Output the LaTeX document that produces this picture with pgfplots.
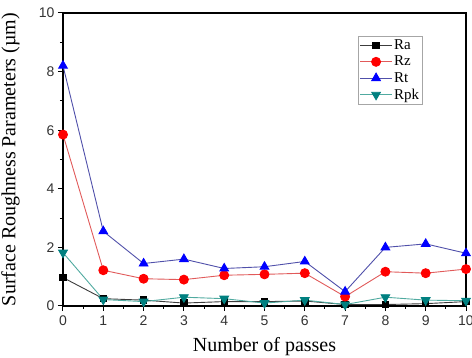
\documentclass[border=0pt]{standalone}
\usepackage{fontspec}
\setmainfont{Liberation Serif}
\newfontfamily\arialf{Liberation Sans}
\usepackage{pgfplots}
\pgfplotsset{compat=1.18}
\definecolor{ralin}{RGB}{60,60,60}
\definecolor{rzlin}{RGB}{225,90,90}
\definecolor{rtlin}{RGB}{80,80,170}
\definecolor{rpklin}{RGB}{80,170,160}
\definecolor{rpkmk}{RGB}{0,128,128}
\begin{document}
\begin{tikzpicture}
\begin{axis}[
  scale only axis, width=403pt, height=293pt,
  xmin=0, xmax=10, ymin=0, ymax=10,
  xtick={0,1,...,10}, ytick={0,2,...,10},
  minor x tick num=1, minor y tick num=1,
  tick align=outside, xtick pos=bottom, ytick pos=left,
  major tick length=5pt, minor tick length=3pt,
  axis line style={line width=1.1pt},
  every tick/.style={black, line width=1pt},
  /pgf/number format/assume math mode=true,
  tick label style={font=\arialf\fontsize{14}{15}\selectfont, text=black!80},
  xticklabel style={yshift=-1pt},
  xlabel={Number of passes},
  ylabel={Surface Roughness Parameters (µm)},
  label style={font=\fontsize{20}{22}\selectfont},
  x label style={at={(axis description cs:0.5,-0.14)}, anchor=center},
  y label style={at={(axis description cs:-0.13,0.5)}, anchor=center},
  legend style={at={(axis description cs:0.893,0.921)}, anchor=north east,
    draw=black!35, font=\fontsize{15}{16}\selectfont, row sep=1pt,
    inner sep=1.5pt},
  legend cell align=left,
  every axis plot/.append style={line width=0.9pt},
  legend image code/.code={\draw[mark repeat=2, mark phase=2, #1] plot coordinates {(0cm,0cm) (0.55cm,0cm) (1.1cm,0cm)};},
]
\addplot[ralin, mark=square*, mark size=3.2pt, mark options={black, fill=black}]
coordinates {(0,0.97) (1,0.25) (2,0.2) (3,0.1) (4,0.15) (5,0.15) (6,0.17) (7,0.05) (8,0.05) (9,0.08) (10,0.15)};
\addlegendentry{Ra}
\addplot[rzlin, mark=*, mark size=4.5pt, mark options={red, fill=red}]
coordinates {(0,5.85) (1,1.22) (2,0.93) (3,0.9) (4,1.05) (5,1.08) (6,1.12) (7,0.32) (8,1.17) (9,1.12) (10,1.26)};
\addlegendentry{Rz}
\addplot[rtlin, mark=triangle*, mark size=5pt, mark options={blue, fill=blue}]
coordinates {(0,8.2) (1,2.55) (2,1.45) (3,1.6) (4,1.28) (5,1.34) (6,1.52) (7,0.49) (8,2.0) (9,2.12) (10,1.8)};
\addlegendentry{Rt}
\addplot[rpklin, mark=triangle*, mark size=5pt, mark options={rpkmk, fill=rpkmk, rotate=180}]
coordinates {(0,1.82) (1,0.22) (2,0.15) (3,0.3) (4,0.25) (5,0.1) (6,0.2) (7,0.05) (8,0.3) (9,0.2) (10,0.18)};
\addlegendentry{Rpk}
\end{axis}
\pgfresetboundingbox
\path ([shift={(-63pt,-52pt)}]current axis.south west) rectangle ([shift={(6pt,13pt)}]current axis.north east);
\end{tikzpicture}
\end{document}
